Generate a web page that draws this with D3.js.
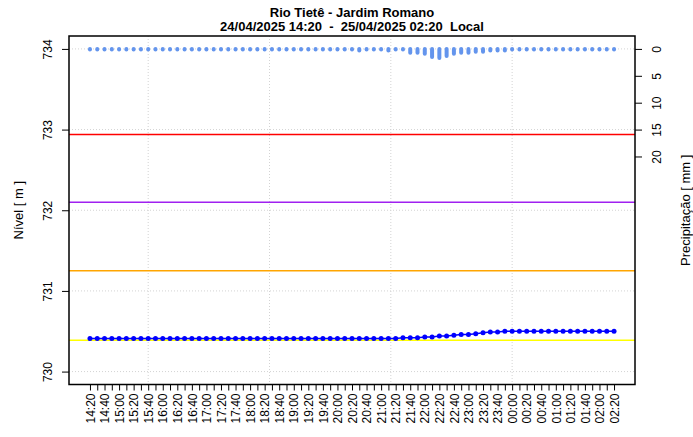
<!DOCTYPE html>
<html><head><meta charset="utf-8">
<script src="https://cdn.jsdelivr.net/npm/d3@7"></script>
<style>body{margin:0;background:#fff}svg text{font-family:"Liberation Sans",Arial,Helvetica,sans-serif}</style>
</head><body><svg id="c" width="693" height="437"></svg>
<script>
// ---- data ----
const titleLines = ["Rio Tietê - Jardim Romano", "24/04/2025 14:20  -  25/04/2025 02:20  Local"];
const startDay = "2025-04-24";
const times = ["14:20","14:30","14:40","14:50","15:00","15:10","15:20","15:30","15:40","15:50",
"16:00","16:10","16:20","16:30","16:40","16:50","17:00","17:10","17:20","17:30","17:40","17:50",
"18:00","18:10","18:20","18:30","18:40","18:50","19:00","19:10","19:20","19:30","19:40","19:50",
"20:00","20:10","20:20","20:30","20:40","20:50","21:00","21:10","21:20","21:30","21:40","21:50",
"22:00","22:10","22:20","22:30","22:40","22:50","23:00","23:10","23:20","23:30","23:40","23:50",
"00:00","00:10","00:20","00:30","00:40","00:50","01:00","01:10","01:20","01:30","01:40","01:50",
"02:00","02:10","02:20"];
const level = [730.41,730.41,730.41,730.41,730.41,730.41,730.41,730.41,730.41,730.41,
730.41,730.41,730.41,730.41,730.41,730.41,730.41,730.41,730.41,730.41,730.41,730.41,
730.41,730.41,730.41,730.41,730.41,730.41,730.41,730.41,730.41,730.41,730.41,730.41,
730.41,730.41,730.41,730.41,730.41,730.41,730.41,730.41,730.41,730.42,730.42,730.42,
730.43,730.43,730.44,730.44,730.45,730.46,730.46,730.47,730.48,730.49,730.49,730.50,
730.50,730.50,730.50,730.50,730.50,730.50,730.50,730.50,730.50,730.50,730.50,730.50,
730.50,730.50,730.50];
const precip = [0,0,0,0,0,0,0,0,0,0,
0,0,0,0,0,0,0,0,0,0,0,0,
0,0,0,0,0,0,0,0,0,0,0,0,
0,0,0,0.2,0,0,0,0.2,0,0,0.6,0.6,
0.8,1.4,1.6,1.2,0.8,0.6,0.6,0.4,0.4,0.2,0.2,0.2,
0,0,0,0,0,0,0,0,0,0,0,0,
0,0,0];
const thresholds = [732.94, 732.10, 731.25, 730.39];
const thresholdColors = ["#ff0000", "#a020f0", "#ffa500", "#ffff00"];
const levelTicks = [730, 731, 732, 733, 734];
const precipTicks = [0, 5, 10, 15, 20];
const precipAxisMax = 60;
const gridTimes = ["2025-04-24T15:40:00","2025-04-24T18:26:40","2025-04-24T21:13:20","2025-04-25T00:00:00"];
const yLabel = "Nível [ m ]";
const y2Label = "Precipitação [ mm ]";

// ---- build dates ----
let day = new Date(startDay + "T00:00:00");
let prevMin = -1;
const dates = times.map(t => {
  const [h, m] = t.split(":").map(Number);
  const mins = h * 60 + m;
  if (mins < prevMin) day = new Date(day.getTime() + 864e5);
  prevMin = mins;
  return new Date(day.getTime() + mins * 6e4);
});

// ---- layout ----
const L = 69, R = 635, T = 36, B = 384.5;
const svg = d3.select("#c");
const t0 = dates[0].getTime(), t1 = dates[dates.length - 1].getTime();
const span = t1 - t0;
const x = d3.scaleTime().domain([new Date(t0 - 0.04 * span), new Date(t1 + 0.04 * span)]).range([L, R]);
const yMin = d3.min(levelTicks), yMax = d3.max(levelTicks), yr = yMax - yMin;
const y = d3.scaleLinear().domain([yMin - 0.04 * yr, yMax + 0.04 * yr]).range([B, T]);
const yP = d3.scaleLinear().domain([0, precipAxisMax]).range([y(yMax), y(yMin)]);

// grid
const grid = svg.append("g").attr("stroke", "#d3d3d3").attr("stroke-width", 1).attr("stroke-dasharray", "1,2");
grid.selectAll("line.h").data(levelTicks).join("line").attr("class", "h")
  .attr("x1", L).attr("x2", R).attr("y1", d => y(d)).attr("y2", d => y(d));
grid.selectAll("line.v").data(gridTimes.map(s => new Date(s))).join("line").attr("class", "v")
  .attr("y1", T).attr("y2", B).attr("x1", d => x(d)).attr("x2", d => x(d));

// thresholds
svg.append("g").selectAll("line").data(thresholds).join("line")
  .attr("x1", L).attr("x2", R).attr("y1", d => y(d)).attr("y2", d => y(d))
  .attr("stroke", (d, i) => thresholdColors[i]).attr("stroke-width", 1.5);

// precipitation
svg.append("g").selectAll("line").data(precip).join("line")
  .attr("x1", (d, i) => x(dates[i])).attr("x2", (d, i) => x(dates[i]))
  .attr("y1", yP(0)).attr("y2", d => yP(d) + 0.6)
  .attr("stroke", "#6495ed").attr("stroke-width", 4).attr("stroke-linecap", "round");

// level
svg.append("path").datum(level)
  .attr("d", d3.line().x((d, i) => x(dates[i])).y(d => y(d)))
  .attr("fill", "none").attr("stroke", "#0000ff").attr("stroke-width", 1.5);
svg.append("g").selectAll("circle").data(level).join("circle")
  .attr("cx", (d, i) => x(dates[i])).attr("cy", d => y(d)).attr("r", 2.5).attr("fill", "#0000ff");

// box
svg.append("rect").attr("x", L).attr("y", T).attr("width", R - L).attr("height", B - T)
  .attr("fill", "none").attr("stroke", "#000").attr("stroke-width", 1.5);

// axes
const fs = 12;
const ax = svg.append("g").attr("transform", `translate(${L},0)`)
  .call(d3.axisLeft(y).tickValues(levelTicks).tickSize(7).tickFormat(d3.format("d")));
ax.select(".domain").remove();
ax.selectAll("text").attr("transform", "rotate(-90)").attr("x", 0).attr("y", -21).attr("dy", "0.35em")
  .attr("text-anchor", "middle").attr("font-size", fs).attr("font-family", null);

const ax2 = svg.append("g").attr("transform", `translate(${R},0)`)
  .call(d3.axisRight(yP).tickValues(precipTicks).tickSize(7));
ax2.select(".domain").remove();
ax2.selectAll("text").attr("transform", "rotate(-90)").attr("x", 0).attr("y", 22).attr("dy", "0.35em")
  .attr("text-anchor", "middle").attr("font-size", fs).attr("font-family", null);

const axb = svg.append("g").attr("transform", `translate(0,${B})`)
  .call(d3.axisBottom(x).tickValues(dates).tickSize(6).tickFormat((d, i) => i % 2 === 0 ? times[i] : ""));
axb.select(".domain").remove();
axb.selectAll("text").attr("transform", "rotate(-90)").attr("x", -9).attr("y", 0).attr("dy", "0.35em")
  .attr("text-anchor", "end").attr("font-size", fs).attr("font-family", null);

// axis titles
svg.append("text").attr("transform", `translate(18,${(T + B) / 2}) rotate(-90)`).attr("dy", "0.35em")
  .attr("text-anchor", "middle").attr("font-size", 13).text(yLabel);
svg.append("text").attr("transform", `translate(685,${(T + B) / 2}) rotate(-90)`).attr("dy", "0.35em")
  .attr("text-anchor", "middle").attr("font-size", 13).text(y2Label);

// title
svg.append("g").selectAll("text").data(titleLines).join("text")
  .attr("x", (L + R) / 2).attr("y", (d, i) => 17 + i * 13.5)
  .attr("text-anchor", "middle").attr("font-size", 13).attr("font-weight", "bold")
  .style("white-space", "pre").text(d => d);
</script></body></html>
